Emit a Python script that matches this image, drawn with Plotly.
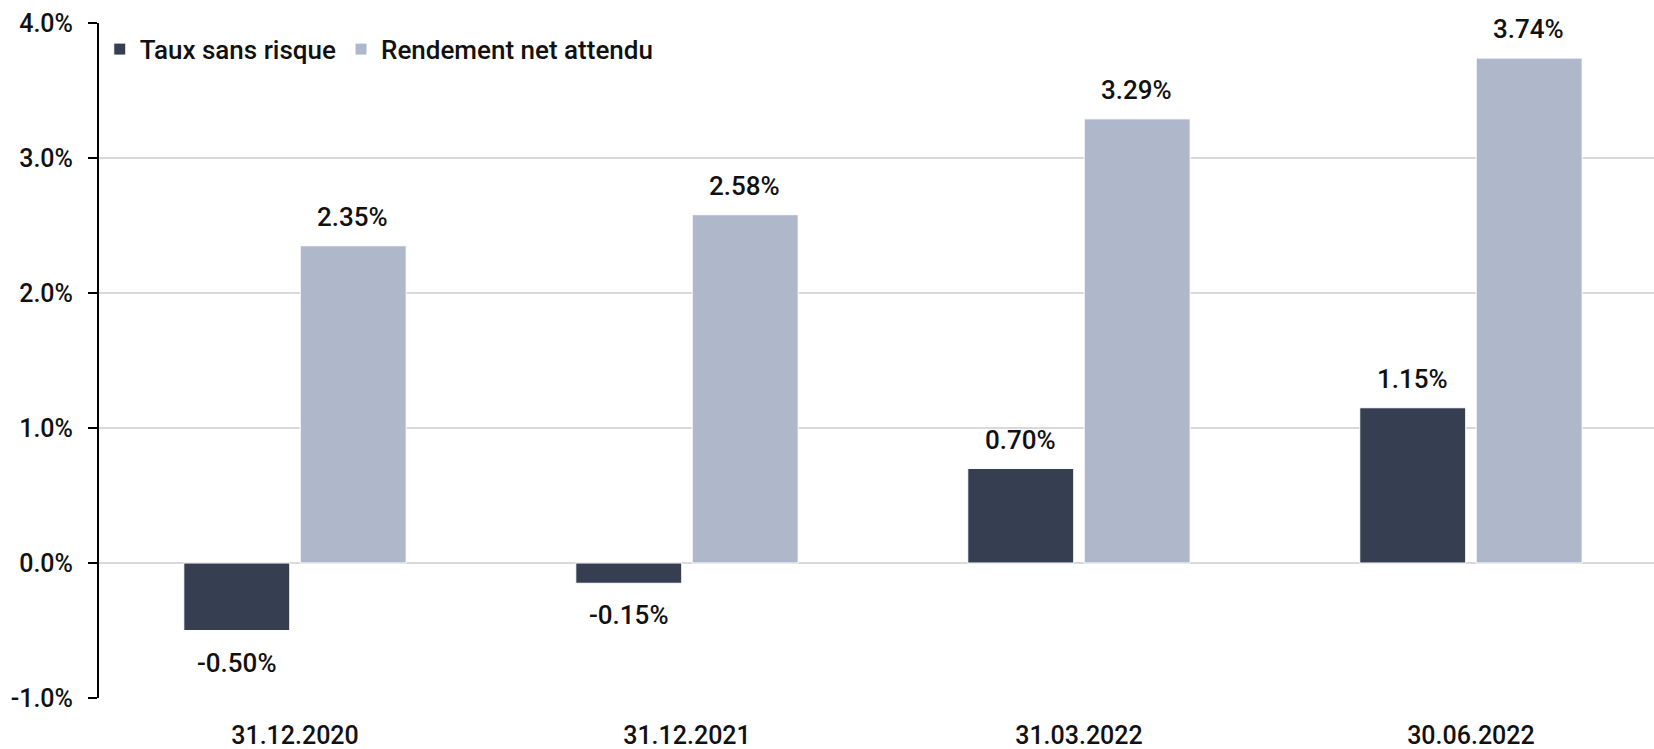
import plotly.graph_objects as go

categories = ["31.12.2020", "31.12.2021", "31.03.2022", "30.06.2022"]
taux_sans_risque = [-0.50, -0.15, 0.70, 1.15]
rendement_net = [2.35, 2.58, 3.29, 3.74]
series_names = ["Taux sans risque", "Rendement net attendu"]
tick_vals = [-1.0, 0.0, 1.0, 2.0, 3.0, 4.0]
tick_text = ["-1.0%", "0.0%", "1.0%", "2.0%", "3.0%", "4.0%"]

FONT = "Roboto"
TXT = "#111111"
COLORS = ["#353f51", "#aeb8ca"]
SLOT_SHIFT = [-58, 58]

fig = go.Figure()
for i, (name, vals) in enumerate([(series_names[0], taux_sans_risque),
                                  (series_names[1], rendement_net)]):
    fig.add_trace(go.Bar(
        x=categories, y=vals, name=name,
        marker=dict(color=COLORS[i], line=dict(color="white", width=1)),
        hoverinfo="x+y",
    ))
    for c, v in zip(categories, vals):
        fig.add_annotation(
            x=c, y=v, xref="x", yref="y", text=f"{v:.2f}%", showarrow=False,
            xshift=SLOT_SHIFT[i], yshift=29 if v >= 0 else -32,
            xanchor="center", yanchor="middle",
            font=dict(family=FONT, size=26, color=TXT, weight=500),
        )

fig.update_layout(
    width=1654, height=749,
    margin=dict(l=99, r=0, t=23, b=51),
    plot_bgcolor="white", paper_bgcolor="white",
    barmode="group", bargap=0.406, bargroupgap=0.09,
    font=dict(family=FONT, size=24, color=TXT, weight=500),
    legend=dict(orientation="h", x=0.0005, y=0.996, xanchor="left", yanchor="top",
                font=dict(family=FONT, size=26, color=TXT, weight=500),
                itemwidth=30, tracegroupgap=0, bgcolor="rgba(0,0,0,0)"),
    showlegend=True,
)
fig.update_yaxes(range=[-1.0, 4.0], tickvals=tick_vals, ticktext=tick_text,
                 showgrid=True, gridcolor="#d9d9d9", gridwidth=2,
                 showline=True, linecolor="black", linewidth=2,
                 ticks="outside", ticklen=9, tickcolor="black", tickwidth=2,
                 ticklabelstandoff=10,
                 zeroline=False, tickfont=dict(family=FONT, size=25, color=TXT, weight=500))
fig.update_xaxes(range=[-0.5, 3.467], showline=False, showgrid=False, ticks="",
                 ticklabelstandoff=20,
                 tickfont=dict(family=FONT, size=25, color=TXT, weight=500))
fig.write_html("out.html", config={"displayModeBar": False},
               post_script="document.body.style.margin='0';document.body.style.overflow='hidden';")
